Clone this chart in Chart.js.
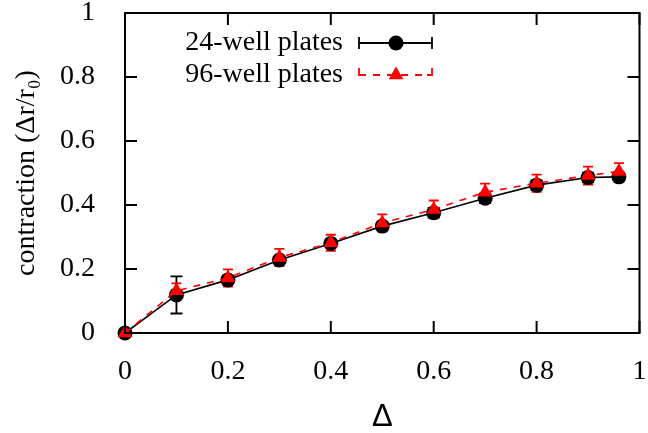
<!DOCTYPE html>
<html lang="en">
<head>
    <meta charset="UTF-8">
    <title>Contraction vs Delta</title>
    <script src="https://cdn.jsdelivr.net/npm/chart.js"></script>
    <style>
        html, body { margin: 0; padding: 0; background: #fff; }
        #chart { display: block; }
    </style>
</head>
<body>
    <canvas id="chart" width="648" height="433"></canvas>

    <script>
        // values
        const deltas = [0, 0.1, 0.2, 0.3, 0.4, 0.5, 0.6, 0.7, 0.8, 0.9, 0.96];
        const well24 = [0, 0.119, 0.166, 0.228, 0.28, 0.334, 0.376, 0.421, 0.462, 0.486, 0.488];
        const well24Err = [0.005, 0.058, 0.012, 0.01, 0.01, 0.012, 0.015, 0.015, 0.015, 0.015, 0.012];
        const well96 = [0, 0.132, 0.172, 0.236, 0.282, 0.344, 0.386, 0.44, 0.468, 0.492, 0.505];
        const well96Err = [0.005, 0.023, 0.027, 0.027, 0.025, 0.027, 0.028, 0.027, 0.027, 0.028, 0.026];
        const tickValues = [0, 0.2, 0.4, 0.6, 0.8, 1];
        const seriesNames = ["24-well plates", "96-well plates"];

        const serif = "'Liberation Serif', 'Times New Roman', serif";

        // error bars go under all the markers
        const errorBars = {
            id: "errorBars",
            beforeDatasetsDraw(chart) {
                const ctx = chart.ctx;
                const x = chart.scales.x, y = chart.scales.y;
                ctx.save();
                ctx.lineWidth = 1.8;
                ctx.setLineDash([]);
                chart.data.datasets.slice().reverse().forEach(ds => {
                    ctx.strokeStyle = ds.borderColor;
                    ds.data.forEach((p, i) => {
                        const px = x.getPixelForValue(p.x);
                        const top = y.getPixelForValue(p.y + ds.errors[i]);
                        const bot = y.getPixelForValue(p.y - ds.errors[i]);
                        const w = ds.capWidth / 2;
                        ctx.beginPath();
                        ctx.moveTo(px, top); ctx.lineTo(px, bot);
                        ctx.moveTo(px - w, top); ctx.lineTo(px + w, top);
                        ctx.moveTo(px - w, bot); ctx.lineTo(px + w, bot);
                        ctx.stroke();
                    });
                });
                ctx.restore();
            }
        };

        // gnuplot style frame with inward ticks + legend
        const frame = {
            id: "frame",
            afterDatasetsDraw(chart) {
                const ctx = chart.ctx;
                const a = chart.chartArea;
                const x = chart.scales.x, y = chart.scales.y;
                const len = 12;
                ctx.save();
                ctx.strokeStyle = "#000";
                ctx.lineWidth = 2;
                ctx.strokeRect(a.left, a.top, a.right - a.left, a.bottom - a.top);
                ctx.beginPath();
                tickValues.forEach(v => {
                    const px = x.getPixelForValue(v);
                    ctx.moveTo(px, a.bottom); ctx.lineTo(px, a.bottom - len);
                    ctx.moveTo(px, a.top); ctx.lineTo(px, a.top + len);
                    const py = y.getPixelForValue(v);
                    ctx.moveTo(a.left, py); ctx.lineTo(a.left + len, py);
                    ctx.moveTo(a.right, py); ctx.lineTo(a.right - len, py);
                });
                ctx.stroke();

                // legend
                ctx.font = "28px " + serif;
                ctx.fillStyle = "#000";
                ctx.textAlign = "right";
                ctx.textBaseline = "middle";
                const tx = 343, x0 = 359, x1 = 432, xm = 396;
                const rows = [43, 75];
                ctx.fillText(seriesNames[0], tx, rows[0]);
                ctx.fillText(seriesNames[1], tx, rows[1]);

                // row 1: black line with error caps and circle
                let ry = rows[0];
                ctx.lineWidth = 1.8;
                ctx.beginPath();
                ctx.moveTo(x0, ry); ctx.lineTo(x1, ry);
                ctx.moveTo(x0, ry - 6); ctx.lineTo(x0, ry + 6);
                ctx.moveTo(x1, ry - 6); ctx.lineTo(x1, ry + 6);
                ctx.stroke();
                ctx.beginPath();
                ctx.arc(xm, ry, 7.5, 0, Math.PI * 2);
                ctx.fill();

                // row 2: red dashed with caps and triangle
                ry = rows[1];
                ctx.strokeStyle = "#ff0000";
                ctx.fillStyle = "#ff0000";
                ctx.setLineDash([7, 7]);
                ctx.beginPath();
                ctx.moveTo(x0, ry); ctx.lineTo(x1, ry);
                ctx.stroke();
                ctx.setLineDash([]);
                ctx.beginPath();
                ctx.moveTo(x0, ry - 7); ctx.lineTo(x0, ry); ctx.lineTo(x0 + 5, ry);
                ctx.moveTo(x1, ry - 7); ctx.lineTo(x1, ry); ctx.lineTo(x1 - 5, ry);
                ctx.stroke();
                const r = 8.5;
                ctx.beginPath();
                ctx.moveTo(xm, ry - r);
                ctx.lineTo(xm + r * Math.sin(2 * Math.PI / 3), ry + r / 2);
                ctx.lineTo(xm - r * Math.sin(2 * Math.PI / 3), ry + r / 2);
                ctx.closePath();
                ctx.fill();
                ctx.restore();
            }
        };

        const toPoints = vals => deltas.map((d, i) => ({ x: d, y: vals[i] }));

        new Chart(document.getElementById("chart"), {
            type: "line",
            data: {
                datasets: [
                    {
                        label: seriesNames[0],
                        data: toPoints(well24),
                        errors: well24Err,
                        capWidth: 12,
                        borderColor: "#000000",
                        backgroundColor: "#000000",
                        borderWidth: 1.6,
                        pointStyle: "circle",
                        pointRadius: 7.5,
                        pointBorderWidth: 0,
                        tension: 0,
                        clip: false,
                        order: 2
                    },
                    {
                        label: seriesNames[1],
                        data: toPoints(well96),
                        errors: well96Err,
                        capWidth: 10,
                        borderColor: "#ff0000",
                        backgroundColor: "#ff0000",
                        borderWidth: 1.6,
                        borderDash: [7, 7],
                        pointStyle: "triangle",
                        pointRadius: 8.5,
                        pointBorderWidth: 0,
                        tension: 0,
                        clip: false,
                        order: 1
                    }
                ]
            },
            options: {
                responsive: false,
                animation: false,
                layout: { padding: { top: 13, right: 6, left: 0, bottom: 0 } },
                plugins: {
                    legend: { display: false },
                    tooltip: { enabled: false }
                },
                scales: {
                    x: {
                        type: "linear",
                        min: 0,
                        max: 1,
                        afterFit: s => { s.height = 100; s.paddingLeft = 0; s.paddingRight = 0; },
                        afterBuildTicks: s => { s.ticks = tickValues.map(v => ({ value: v })); },
                        grid: { display: false, drawTicks: false },
                        border: { display: false },
                        ticks: { color: "#000", padding: 22, maxRotation: 0, callback: v => String(v), font: { family: serif, size: 28 } },
                        title: {
                            display: true,
                            text: "Δ",
                            color: "#000",
                            padding: { top: 0, bottom: -3 },
                            font: { family: "'Liberation Sans', Arial, sans-serif", size: 31 }
                        }
                    },
                    y: {
                        type: "linear",
                        min: 0,
                        max: 1,
                        afterFit: s => { s.width = 125; s.paddingTop = 0; s.paddingBottom = 0; },
                        afterBuildTicks: s => { s.ticks = tickValues.map(v => ({ value: v })); },
                        grid: { display: false, drawTicks: false },
                        border: { display: false },
                        ticks: { color: "#000", padding: 30, callback: v => String(v), font: { family: serif, size: 28 } },
                        title: {
                            display: true,
                            text: "contraction (Δr/r₀)",
                            color: "#000",
                            padding: { top: 10, bottom: 0 },
                            font: { family: serif, size: 28 }
                        }
                    }
                }
            },
            plugins: [errorBars, frame]
        });
    </script>
</body>
</html>
